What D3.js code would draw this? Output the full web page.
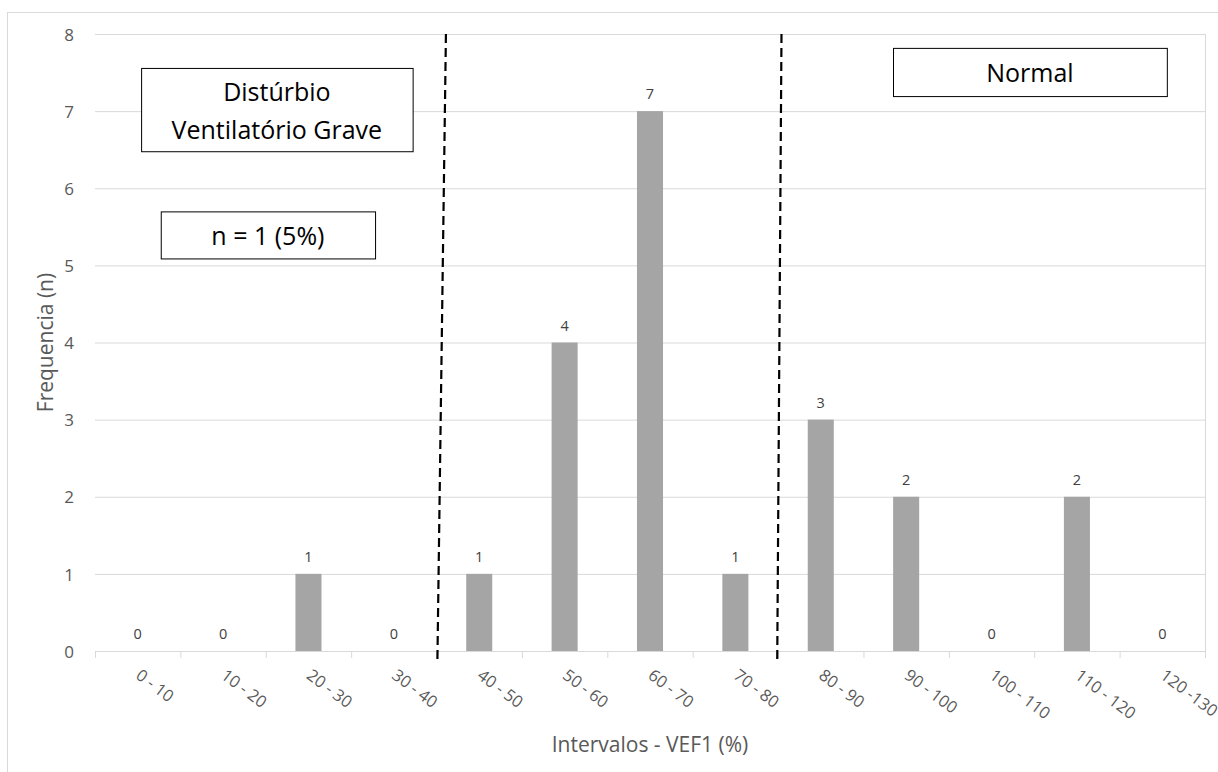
<!DOCTYPE html>
<html><head><meta charset="utf-8">
<script src="https://cdn.jsdelivr.net/npm/d3@7"></script>
<style>body{margin:0;background:#fff}svg{display:block}</style>
</head><body>
<svg id="c" width="1218" height="772"></svg>
<script>
const categories = ["0 - 10","10 - 20","20 - 30","30 - 40","40 - 50","50 - 60","60 - 70","70 - 80","80 - 90","90 - 100","100 - 110","110 - 120","120 -130"];
const values = [0,0,1,0,1,4,7,1,3,2,0,2,0];
const yTicks = [0,1,2,3,4,5,6,7,8];
const yTitle = "Frequencia (n)";
const xTitle = "Intervalos - VEF1 (%)";
// dividers in category-index units (top, bottom)
const dividers = [{top:4.11, bottom:4.01},{top:8.04, bottom:7.99}];
// annotation boxes in category-index / value units
const boxes = [
  {x0:0.54, x1:3.72, y0:7.56, y1:6.48, lines:["Distúrbio","Ventilatório Grave"]},
  {x0:0.77, x1:3.28, y0:5.70, y1:5.09, lines:["n = 1 (5%)"]},
  {x0:9.346, x1:12.553, y0:7.82, y1:7.195, lines:["Normal"]}
];

const svg = d3.select("#c");
const font = "'Open Sans', sans-serif";
const L = 95, R = 1205, T = 34, B = 651;

svg.append("rect").attr("x",7.5).attr("y",12.5).attr("width",1220).attr("height",800)
  .attr("fill","none").attr("stroke","#d9d9d9");

const x = d3.scaleBand().domain(categories).range([L,R]).paddingInner(0.695).paddingOuter(0.3475);
const xi = d3.scaleLinear().domain([0,categories.length]).range([L,R]);
const y = d3.scaleLinear().domain([0,8]).range([B,T]);

// gridlines
svg.append("g").selectAll("line").data(yTicks.filter(d=>d>0)).join("line")
  .attr("x1",L).attr("x2",R).attr("y1",d=>y(d)+0.5).attr("y2",d=>y(d)+0.5)
  .attr("stroke","#d9d9d9").attr("stroke-width",1);
svg.append("line").attr("x1",R+0.5).attr("x2",R+0.5).attr("y1",T).attr("y2",B).attr("stroke","#d9d9d9");

// y axis labels
const yAxis = d3.axisLeft(y).tickValues(yTicks).tickSize(0).tickPadding(0).tickFormat(d3.format("d"));
const yg = svg.append("g").attr("transform",`translate(${L-21},0)`).call(yAxis);
yg.select(".domain").remove();
yg.selectAll("text").attr("fill","#595959").style("font-family",font).style("font-size","17px").attr("dy","0.36em");

// bars
svg.append("g").selectAll("rect").data(values).join("rect")
  .attr("x",(d,i)=>x(categories[i])).attr("width",x.bandwidth())
  .attr("y",d=>y(d)).attr("height",d=>B-y(d)).attr("fill","#a5a5a5");

// x axis
const xAxisLine = svg.append("g");
xAxisLine.append("line").attr("x1",L).attr("x2",R).attr("y1",B+0.5).attr("y2",B+0.5).attr("stroke","#d9d9d9");
xAxisLine.selectAll("line.t").data(d3.range(categories.length+1)).join("line").attr("class","t")
  .attr("x1",d=>xi(d)+0.5).attr("x2",d=>xi(d)+0.5).attr("y1",B).attr("y2",B+7).attr("stroke","#d9d9d9");

// x tick labels rotated
svg.append("g").selectAll("text").data(categories).join("text")
  .attr("transform",(d,i)=>`translate(${x(d)+x.bandwidth()/2-3},${B+26.5}) rotate(37)`)
  .attr("fill","#595959").style("font-family",font).style("font-size","16.5px")
  .text(d=>d);

// data labels
svg.append("g").selectAll("text").data(values).join("text")
  .attr("x",(d,i)=>x(categories[i])+x.bandwidth()/2).attr("y",d=>y(d)-12)
  .attr("text-anchor","middle").attr("fill","#404040").style("font-family",font).style("font-size","14.5px")
  .text(d=>d);

// dashed dividers
svg.append("g").selectAll("line").data(dividers).join("line")
  .attr("x1",d=>xi(d.top)).attr("y1",T).attr("x2",d=>xi(d.bottom)).attr("y2",B+10)
  .attr("stroke","#000").attr("stroke-width",2.2).attr("stroke-dasharray","9,5");

// boxes
const bg = svg.append("g").selectAll("g").data(boxes).join("g");
bg.append("rect").attr("x",d=>xi(d.x0)+0.5).attr("y",d=>y(d.y0)+0.5)
  .attr("width",d=>xi(d.x1)-xi(d.x0)).attr("height",d=>y(d.y1)-y(d.y0))
  .attr("fill","#fff").attr("stroke","#000").attr("stroke-width",1);
bg.each(function(d){
  const g = d3.select(this);
  const cx = (xi(d.x0)+xi(d.x1))/2, cy = (y(d.y0)+y(d.y1))/2;
  const lh = 38, n = d.lines.length;
  d.lines.forEach((t,k)=>{
    g.append("text").attr("x",cx).attr("y",cy+(k-(n-1)/2)*lh+10)
      .attr("text-anchor","middle").attr("fill","#000").style("font-family",font).style("font-size","25px").text(t);
  });
});

// axis titles
svg.append("text").attr("transform",`translate(53,${(T+B)/2}) rotate(-90)`).attr("text-anchor","middle")
  .attr("fill","#595959").style("font-family",font).style("font-size","21px").text(yTitle);
svg.append("text").attr("x",650).attr("y",752).attr("text-anchor","middle")
  .attr("fill","#595959").style("font-family",font).style("font-size","21px").text(xTitle);
</script>
</body></html>
